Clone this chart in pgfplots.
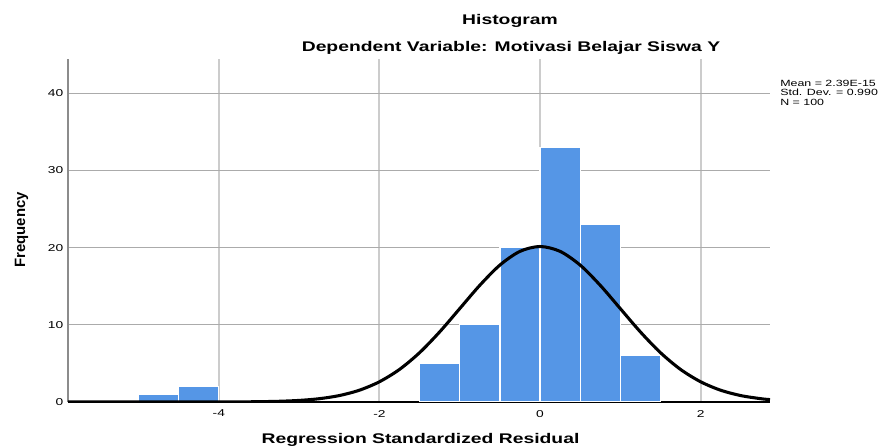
\documentclass[border=0pt]{standalone}
\usepackage{fontspec}
\setmainfont{Liberation Sans}[FakeStretch=1.38]
\newfontfamily\plainfont{Liberation Sans}
\usepackage{pgfplots}
\pgfplotsset{compat=1.18}
\definecolor{barblue}{HTML}{5596E6}
\begin{document}
\begin{tikzpicture}
\begin{scope}[x=0.75pt,y=0.75pt]
\path[use as bounding box] (-68,-44) rectangle (814,402);
\end{scope}
\begin{axis}[
  at={(0,0)}, anchor=south west,
  scale only axis, width=526.5pt, height=257.25pt,
  xmin=-5.878, xmax=2.864, ymin=0, ymax=44.45,
  xtick={-4,-2,0,2}, ytick={0,10,20,30,40},
  major tick length=0pt,
  xmajorgrids, ymajorgrids,
  x grid style={color=black!20, line width=1.5pt},
  y grid style={color=black!33, line width=0.75pt},
  axis x line*=bottom, axis y line*=left,
  axis line style={-},
  x axis line style={black, line width=1.2pt},
  y axis line style={black!45, line width=1.5pt},
  /pgf/number format/assume math mode=true,
  tick label style={font=\fontsize{7.5}{9}\selectfont, text=black},
  xticklabel style={yshift=-2.5pt},
]
\addplot[ybar, bar width=0.5, bar shift=0pt, fill=barblue, draw=white, line width=1pt]
  coordinates {(-4.75,1) (-4.25,2) (-1.25,5) (-0.75,10) (-0.25,20) (0.25,33) (0.75,23) (1.25,6)};
\addplot[black, line width=2.3pt, smooth, no markers] coordinates {
  (-5.878,0) (-5,0) (-4.5,0.0007) (-4,0.006) (-3.75,0.015) (-3.5,0.039) (-3.25,0.092)
  (-3,0.204) (-2.75,0.425) (-2.5,0.831) (-2.25,1.523) (-2,2.62) (-1.75,4.22)
  (-1.5,6.39) (-1.25,9.08) (-1,12.10) (-0.75,15.12) (-0.5,17.74) (-0.25,19.52)
  (0,20.15) (0.25,19.52) (0.5,17.74) (0.75,15.12) (1,12.10) (1.25,9.08)
  (1.5,6.39) (1.75,4.22) (2,2.62) (2.25,1.523) (2.5,0.831) (2.75,0.425) (2.864,0.31)};
\end{axis}
\begin{scope}[x=0.75pt,y=0.75pt]
\node[anchor=base, inner sep=0pt, font=\bfseries\fontsize{10.5}{12}\selectfont] at (442,377) {Histogram};
\node[anchor=base, inner sep=0pt, font=\bfseries\fontsize{10.5}{12}\selectfont] at (443,350) {Dependent Variable: Motivasi Belajar Siswa Y};
\node[anchor=base, inner sep=0pt, font=\bfseries\fontsize{10.5}{12}\selectfont] at (352.5,-42) {Regression Standardized Residual};
\node[anchor=base, rotate=90, inner sep=0pt, font=\plainfont\bfseries\fontsize{11.2}{13}\selectfont] at (-43,172) {Frequency};
\node[anchor=base west, inner sep=0pt, font=\fontsize{6.75}{7.3}\selectfont] at (712,315.5) {Mean = 2.39E-15};
\node[anchor=base west, inner sep=0pt, font=\fontsize{6.75}{7.3}\selectfont] at (712,306) {Std. Dev. = 0.990};
\node[anchor=base west, inner sep=0pt, font=\fontsize{6.75}{7.3}\selectfont] at (712,296.5) {N = 100};
\end{scope}
\end{tikzpicture}
\end{document}
